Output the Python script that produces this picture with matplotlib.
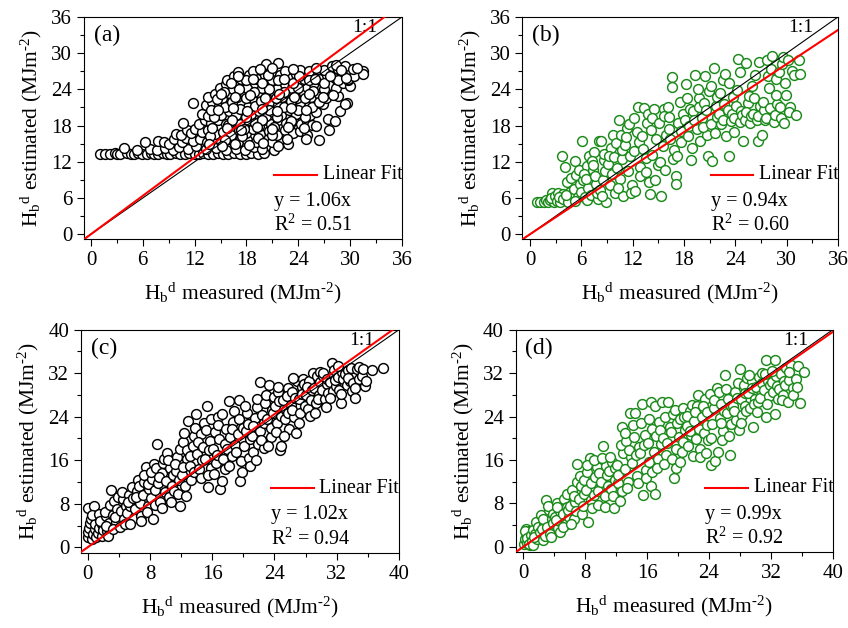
import matplotlib
matplotlib.use("Agg")
import matplotlib.pyplot as plt
from matplotlib.ticker import MultipleLocator

plt.rcParams['font.family'] = 'Liberation Serif'
plt.rcParams['mathtext.fontset'] = 'custom'
plt.rcParams['mathtext.rm'] = 'Liberation Serif'
plt.rcParams['mathtext.it'] = 'Liberation Serif:italic'

# (a) measured vs estimated
pts_a = [
    (1.0, 13.3), (1.6, 13.3), (2.2, 13.3), (2.8, 13.4), (3.0, 13.3), (3.4, 13.3), (4.2, 13.4), (4.6, 13.3),
    (5.0, 13.3), (5.5, 13.5), (5.9, 13.3), (6.5, 13.3), (6.9, 13.4), (7.3, 13.3), (7.8, 13.3), (8.3, 13.5),
    (8.8, 13.3), (9.2, 13.3), (9.8, 13.4), (10.3, 13.3), (10.9, 13.3), (11.4, 13.5), (12.0, 13.3), (12.5, 13.3),
    (13.0, 13.4), (13.6, 13.3), (14.1, 13.3), (14.7, 13.5), (15.3, 13.3), (15.9, 13.3), (16.6, 13.4), (17.2, 13.3),
    (17.9, 13.3), (18.5, 13.5), (19.3, 13.3), (20.0, 13.4),
    (3.8, 14.3), (5.3, 13.9), (6.8, 14.1), (7.6, 13.9), (8.6, 14.3), (9.5, 14.0), (10.2, 14.5), (11.2, 14.2),
    (12.2, 14.6), (13.3, 14.1), (14.5, 14.3), (15.6, 14.0), (16.8, 14.2), (17.8, 14.0), (18.9, 14.4), (19.8, 14.1),
    (21.2, 14.0),
    (6.2, 15.2), (7.8, 15.5), (8.4, 15.2), (9.0, 15.0), (9.6, 15.8), (10.5, 15.3), (11.0, 15.9), (11.8, 15.4),
    (12.6, 15.7), (13.4, 15.2), (14.2, 15.9), (15.0, 15.4), (16.0, 15.8), (17.0, 15.2), (18.1, 15.6), (19.1, 15.3),
    (20.2, 15.7), (21.0, 15.2), (22.0, 15.4), (22.8, 15.0),
    (9.8, 16.6), (10.4, 16.4), (11.1, 17.3), (11.6, 16.8), (12.0, 17.5), (12.8, 16.9), (13.6, 17.2), (14.4, 16.6),
    (15.3, 17.0), (16.2, 16.5), (17.1, 17.2), (17.9, 16.7), (18.8, 17.4), (19.6, 16.6), (20.6, 17.1), (21.5, 16.5),
    (22.5, 17.3), (23.4, 16.8), (24.2, 17.1), (25.0, 16.5),
    (10.6, 18.4), (12.5, 18.3), (13.2, 19.0), (13.9, 18.4), (14.7, 18.9), (15.6, 18.2), (16.4, 18.8), (17.3, 18.3),
    (18.2, 19.0), (19.0, 18.4), (19.9, 18.9), (20.8, 18.2), (21.6, 18.9), (22.6, 18.5), (23.4, 19.0), (24.3, 18.3),
    (25.0, 18.8), (25.6, 18.1),
    (12.8, 20.0), (13.5, 19.6), (14.3, 20.3), (15.1, 19.7), (16.0, 20.4), (16.8, 19.8), (17.7, 20.5), (18.5, 19.9),
    (19.4, 20.4), (20.3, 19.6), (21.1, 20.3), (22.0, 19.8), (22.9, 20.5), (23.7, 19.9), (24.6, 20.4), (25.4, 19.8),
    (26.0, 20.2),
    (11.8, 21.7), (13.3, 21.4), (14.0, 21.9), (14.8, 21.2), (15.7, 22.0), (16.5, 21.3), (17.4, 21.9), (18.2, 21.1),
    (19.1, 21.8), (20.0, 21.3), (20.8, 22.0), (21.7, 21.4), (22.6, 21.9), (23.5, 21.2), (24.3, 21.8), (25.2, 21.3),
    (26.0, 21.9), (26.8, 21.5),
    (13.6, 22.8), (14.4, 23.3), (15.2, 22.6), (16.0, 23.4), (16.9, 22.8), (17.8, 23.3), (18.6, 22.6), (19.5, 23.4),
    (20.4, 22.9), (21.2, 23.5), (22.1, 22.7), (23.0, 23.2), (23.8, 22.6), (24.7, 23.4), (25.5, 22.8), (26.4, 23.3),
    (27.2, 22.6), (27.8, 23.4), (28.6, 22.9),
    (14.9, 24.3), (15.6, 24.9), (16.4, 24.1), (17.2, 24.8), (18.1, 24.3), (19.0, 25.0), (19.8, 24.2), (20.7, 24.8),
    (21.5, 24.1), (22.4, 24.9), (23.3, 24.3), (24.1, 25.0), (25.0, 24.4), (25.8, 24.9), (26.7, 24.2), (27.5, 24.8),
    (28.4, 24.3), (29.2, 25.0), (30.0, 24.5), (29.7, 25.5),
    (15.8, 25.6), (16.6, 26.2), (17.4, 25.7), (18.3, 26.4), (19.2, 25.8), (20.1, 26.3), (21.0, 25.6), (21.9, 26.4),
    (22.8, 25.9), (23.7, 26.5), (24.6, 25.8), (25.5, 26.4), (26.4, 25.7), (27.3, 26.3), (28.2, 25.9), (29.0, 26.6),
    (29.8, 25.8), (30.4, 26.2),
    (17.0, 26.9), (18.8, 27.0), (20.3, 28.2), (21.7, 28.4), (22.5, 27.1), (24.2, 27.2), (25.2, 27.0), (27.0, 27.2),
    (27.9, 27.9), (28.6, 27.4), (29.4, 27.8), (30.3, 27.3), (31.5, 27.0), (31.5, 26.6), (28.4, 28.1),
    (13.8, 16.2), (15.5, 15.6), (17.5, 16.3), (19.3, 15.9), (21.0, 16.4), (22.7, 15.7),
    (14.0, 17.6), (15.9, 18.1), (17.7, 17.5), (19.5, 18.0), (21.2, 17.7), (23.0, 18.2), (24.6, 17.6),
    (14.2, 19.4), (16.3, 18.9), (18.0, 19.5), (19.8, 19.0), (21.5, 19.4), (23.1, 18.8), (24.8, 19.5),
    (13.9, 20.6), (15.5, 21.1), (17.2, 20.7), (19.0, 21.2), (20.6, 20.6), (22.3, 21.0), (24.0, 20.5), (25.6, 21.1),
    (14.6, 22.4), (16.3, 21.9), (18.0, 22.5), (19.7, 22.0), (21.4, 22.6), (23.1, 22.1), (24.8, 22.5), (26.4, 21.9),
    (15.4, 23.6), (17.1, 24.1), (18.9, 23.5), (20.6, 24.0), (22.3, 23.6), (24.0, 24.2), (25.7, 23.7), (27.0, 24.0),
    (16.2, 25.1), (18.0, 25.5), (19.8, 25.0), (21.6, 25.6), (23.4, 25.1), (25.2, 25.6), (27.0, 25.1), (28.6, 25.5),
    (13.7, 14.9), (15.2, 14.6), (16.7, 15.0), (18.3, 14.7), (19.9, 15.1), (21.6, 14.6),
    (15.7, 17.6), (17.4, 17.3), (19.2, 17.7), (21.0, 17.4), (22.8, 17.8),
    (14.7, 20.5), (16.4, 20.9), (18.1, 20.4), (19.8, 20.8), (21.5, 20.4), (23.2, 20.9), (24.9, 20.6),
    (15.0, 23.2), (16.7, 22.7), (18.4, 23.1), (20.1, 22.6), (21.8, 23.2), (23.5, 22.7), (25.2, 23.2), (26.9, 22.8),
    (28.0, 23.1),
    (17.0, 26.2), (18.7, 25.8), (20.5, 26.3), (22.3, 25.8), (24.1, 26.2), (25.9, 25.8), (27.7, 26.2), (29.5, 25.9),
    (19.6, 27.3), (21.0, 27.6), (23.4, 27.3), (26.0, 27.6), (28.9, 27.2), (30.8, 27.5),
    (24.9, 15.8), (26.4, 15.6), (26.1, 17.9), (27.5, 17.3), (27.4, 19.1), (28.2, 18.7), (28.8, 20.4), (29.6, 21.8),
    (29.4, 21.5),
]

# (b)
pts_b = [
    (0.8, 5.3), (1.2, 5.4), (1.6, 5.3), (1.9, 5.6), (2.1, 5.3),
    (2.3, 5.7), (2.6, 6.9), (2.8, 5.4), (2.5, 6.0), (2.9, 6.3),
    (3.1, 5.5), (3.3, 6.8), (3.5, 5.4), (3.7, 13.0), (3.8, 6.6), (3.4, 6.1), (3.9, 5.8),
    (4.1, 11.1), (4.3, 8.6), (4.5, 5.7), (4.7, 7.0), (4.9, 6.2), (4.4, 5.4), (4.8, 9.3), (4.2, 6.5),
    (5.1, 7.5), (5.2, 12.1), (5.4, 9.8), (5.6, 6.2), (5.8, 8.4), (5.3, 5.5), (5.7, 10.6), (5.9, 7.0),
    (6.1, 15.5), (6.2, 8.9), (6.4, 6.1), (6.6, 11.3), (6.8, 7.7), (6.3, 10.0), (6.7, 5.6), (6.9, 12.9), (6.5, 9.2),
    (7.1, 6.5), (7.3, 10.7), (7.5, 13.6), (7.7, 8.3), (7.9, 5.9), (7.2, 12.1), (7.6, 9.6), (7.8, 6.8), (7.4, 11.5),
    (8.1, 15.5), (8.3, 15.4), (8.5, 9.0), (8.7, 12.3), (8.9, 5.4), (8.2, 7.4), (8.6, 13.3), (8.8, 10.4), (8.4, 6.4),
    (9.1, 11.6), (9.3, 8.1), (9.5, 14.3), (9.7, 16.4), (9.9, 6.9), (9.2, 13.0), (9.6, 10.0), (9.8, 12.8),
    (10.1, 15.1), (10.4, 18.9), (10.5, 9.1), (10.7, 12.4), (10.9, 6.3), (10.2, 11.0), (10.6, 16.5), (10.8, 13.9),
    (10.3, 7.6),
    (11.1, 14.7), (11.3, 17.6), (11.5, 10.5), (11.7, 12.9), (11.9, 8.2), (11.2, 16.1), (11.6, 18.2), (11.8, 6.9),
    (12.1, 13.8), (12.3, 7.2), (12.5, 17.0), (12.6, 21.1), (12.8, 11.2), (12.2, 19.3), (12.7, 15.3), (12.9, 9.6),
    (13.1, 16.2), (13.3, 20.9), (13.5, 12.6), (13.7, 18.4), (13.9, 8.6), (13.2, 14.1), (13.6, 10.3), (13.8, 20.0),
    (14.1, 17.3), (14.0, 6.6), (14.3, 13.2), (14.5, 20.8), (14.7, 15.8), (14.9, 11.5), (14.2, 19.2), (14.6, 9.0),
    (15.1, 18.5), (15.3, 6.4), (15.5, 14.6), (15.7, 20.7), (15.9, 16.4), (15.2, 12.0), (15.6, 19.6), (15.8, 10.7),
    (16.1, 21.0), (16.3, 17.4), (16.6, 26.1), (16.6, 24.4), (16.8, 14.0), (16.2, 19.5), (16.7, 12.4), (16.4, 15.8),
    (17.1, 9.7), (17.1, 8.3), (17.3, 18.4), (17.5, 21.9), (17.7, 15.3), (17.9, 20.0), (17.2, 13.0), (17.6, 17.1),
    (18.1, 19.0), (18.3, 22.6), (18.5, 16.2), (18.7, 20.8), (18.9, 14.3), (18.2, 24.9), (18.6, 18.0), (18.8, 12.3),
    (19.1, 20.4), (19.3, 26.4), (19.5, 17.4), (19.7, 22.6), (19.9, 15.5), (19.2, 18.9), (19.6, 24.0), (19.8, 21.0),
    (20.1, 19.2), (20.5, 26.2), (20.3, 21.8), (20.7, 16.4), (20.8, 13.0), (20.9, 23.8), (20.2, 17.8), (20.6, 20.5),
    (21.1, 18.3), (21.3, 12.2), (21.5, 27.5), (21.7, 21.2), (21.9, 19.5), (21.2, 24.6), (21.6, 16.8), (21.8, 22.7),
    (22.1, 19.9), (22.3, 18.2), (22.5, 25.6), (22.7, 21.5), (22.9, 16.2), (22.2, 23.4), (22.6, 19.0), (22.8, 26.5),
    (23.1, 20.6), (23.3, 13.0), (23.5, 18.7), (23.7, 22.8), (23.9, 16.9), (23.2, 25.1), (23.6, 20.0), (23.8, 19.3),
    (24.1, 21.2), (24.3, 29.0), (24.5, 18.6), (24.7, 20.4), (24.9, 15.4), (24.2, 23.9), (24.6, 26.9), (24.8, 19.8),
    (25.1, 19.0), (25.3, 28.3), (25.5, 21.7), (25.7, 18.5), (25.9, 24.6), (25.2, 20.3), (25.6, 22.9), (25.8, 19.6),
    (26.1, 20.0), (26.3, 26.3), (26.5, 18.9), (26.7, 15.5), (26.9, 21.3), (26.2, 22.6), (26.6, 19.6), (26.8, 28.5),
    (27.1, 16.4), (27.3, 20.5), (27.5, 18.9), (27.7, 28.8), (27.9, 24.3), (27.2, 21.9), (27.6, 19.3), (27.8, 26.2),
    (28.1, 20.9), (28.3, 29.5), (28.5, 18.6), (28.7, 25.8), (28.9, 21.6), (28.2, 27.4), (28.6, 19.8), (28.8, 23.0),
    (29.1, 26.8), (29.3, 19.3), (29.5, 28.2), (29.7, 18.5), (29.9, 23.0), (29.2, 21.1), (29.6, 29.3), (29.8, 25.0),
    (30.2, 28.9), (30.4, 21.0), (30.6, 27.1), (30.8, 26.3), (30.3, 20.3),
    (31.1, 19.7), (31.4, 28.9), (31.5, 26.6),
]

# (c)
pts_c = [
    (0.0, 1.9), (0.1, 2.8), (0.2, 3.6), (0.3, 4.4), (0.1, 7.2), (0.8, 7.5), (0.5, 1.5), (0.7, 2.4), (0.9, 3.3),
    (0.4, 5.2), (1.0, 4.3), (1.1, 1.8), (0.6, 6.0),
    (1.3, 2.6), (1.5, 3.5), (1.7, 5.5), (1.9, 4.2), (1.4, 6.2), (1.8, 2.0), (2.0, 3.1), (1.6, 4.8),
    (2.3, 5.8), (2.5, 3.0), (2.6, 2.0), (2.8, 4.5), (2.2, 6.4), (3.0, 10.6), (2.9, 7.8), (2.4, 4.0),
    (3.2, 6.0), (3.4, 8.5), (3.6, 4.6), (3.8, 7.0), (3.3, 3.4), (3.9, 9.3), (3.5, 5.6),
    (4.1, 3.8), (4.3, 6.6), (4.5, 8.9), (4.7, 5.2), (4.9, 7.6), (4.4, 10.1), (4.8, 4.3),
    (5.1, 6.3), (5.3, 9.6), (5.5, 7.5), (5.7, 11.0), (5.9, 5.3), (5.2, 8.4), (5.8, 9.0), (5.4, 4.2),
    (6.1, 7.0), (6.3, 10.4), (6.5, 12.3), (6.7, 8.2), (6.9, 5.8), (6.2, 9.2), (6.6, 11.3), (6.8, 4.8),
    (7.1, 9.6), (7.3, 12.0), (7.5, 14.8), (7.7, 7.6), (7.9, 10.8), (7.2, 13.3), (7.6, 6.4), (7.8, 11.7),
    (8.1, 9.0), (8.3, 12.6), (8.4, 5.2), (8.5, 15.3), (8.7, 10.6), (8.9, 18.9), (8.2, 13.8), (8.6, 7.8), (8.8, 14.6),
    (9.1, 11.8), (9.3, 8.3), (9.5, 13.6), (9.7, 15.5), (9.9, 10.2), (9.2, 12.9), (9.6, 7.2), (9.8, 16.3),
    (10.1, 12.2), (10.2, 17.4), (10.4, 9.2), (10.6, 14.5), (10.8, 11.3), (10.3, 16.0), (10.7, 8.3), (10.9, 13.3),
    (11.1, 10.4), (11.3, 14.0), (11.5, 16.6), (11.7, 12.4), (11.9, 7.5), (11.2, 15.3), (11.6, 9.8), (11.8, 18.0),
    (12.1, 13.3), (12.3, 19.4), (12.5, 11.2), (12.7, 16.3), (12.9, 23.3), (12.2, 14.7), (12.6, 9.5), (12.8, 17.8),
    (12.4, 21.0),
    (13.1, 15.0), (13.3, 12.3), (13.5, 18.6), (13.7, 20.4), (13.9, 24.5), (13.2, 16.8), (13.6, 13.9), (13.8, 22.0),
    (14.1, 17.2), (14.3, 14.3), (14.5, 20.9), (14.7, 16.0), (14.9, 22.8), (14.2, 19.3), (14.6, 12.7), (14.8, 18.4),
    (15.1, 16.3), (15.3, 25.9), (15.5, 11.0), (15.7, 19.6), (15.9, 14.6), (15.2, 21.5), (15.6, 17.8), (15.8, 23.6),
    (15.4, 13.2),
    (16.1, 18.1), (16.3, 21.2), (16.5, 15.5), (16.7, 23.9), (16.9, 19.9), (16.2, 13.5), (16.6, 17.0), (16.8, 22.4),
    (17.0, 10.8), (17.2, 12.2), (17.4, 16.3), (17.6, 19.0), (17.8, 21.8), (17.3, 24.5), (17.7, 14.4), (17.9, 18.0),
    (18.1, 26.8), (18.3, 20.3), (18.5, 16.7), (18.7, 23.1), (18.9, 18.8), (18.2, 14.9), (18.6, 21.7), (18.8, 25.0),
    (19.1, 17.5), (19.4, 27.1), (19.6, 12.2), (19.8, 13.8), (19.3, 20.8), (19.5, 23.5), (19.7, 15.8), (19.9, 22.0),
    (20.1, 18.6), (20.3, 21.4), (20.5, 24.6), (20.7, 16.4), (20.9, 19.9), (20.2, 26.0), (20.6, 22.7), (20.8, 14.9),
    (21.1, 20.5), (21.3, 17.6), (21.5, 23.8), (21.7, 25.7), (21.9, 19.0), (21.2, 22.3), (21.6, 16.1), (21.8, 27.3),
    (22.1, 21.3), (22.2, 30.3), (22.4, 24.4), (22.6, 18.2), (22.8, 26.5), (22.3, 19.8), (22.7, 22.9), (22.9, 28.0),
    (23.1, 23.6), (23.3, 29.9), (23.5, 20.3), (23.7, 25.3), (23.9, 27.6), (23.2, 18.6), (23.6, 22.0), (23.8, 24.7),
    (24.1, 25.9), (24.3, 22.8), (24.5, 28.5), (24.7, 17.9), (24.8, 18.7), (24.9, 24.2), (24.2, 21.2), (24.6, 26.8),
    (24.4, 29.5),
    (25.1, 27.0), (25.3, 23.5), (25.5, 25.2), (25.7, 29.2), (25.9, 21.8), (25.2, 20.5), (25.6, 27.9), (25.8, 24.6),
    (26.1, 26.2), (26.3, 28.6), (26.5, 23.9), (26.8, 21.0), (26.9, 30.5), (26.2, 25.3), (26.6, 27.5), (26.4, 31.2),
    (27.1, 27.3), (27.3, 24.7), (27.5, 29.4), (27.7, 31.0), (27.9, 26.0), (27.2, 22.8), (27.6, 28.2), (27.8, 30.1),
    (28.1, 28.0), (28.3, 25.4), (28.5, 30.6), (28.7, 27.1), (28.9, 32.0), (28.2, 29.5), (28.6, 24.1), (28.8, 29.0),
    (29.1, 29.2), (29.3, 26.5), (29.5, 31.4), (29.7, 28.0), (29.9, 30.3), (29.2, 24.6), (29.6, 27.2), (29.8, 32.3),
    (30.1, 29.0), (30.3, 31.5), (30.5, 27.3), (30.7, 30.0), (30.9, 28.4), (30.2, 32.0), (30.6, 25.8), (30.8, 31.0),
    (31.1, 30.4), (31.4, 33.8), (31.5, 28.7), (31.7, 31.6), (31.9, 29.6), (31.2, 27.5), (31.6, 32.5), (31.8, 30.8),
    (32.1, 31.3), (32.3, 29.0), (32.5, 26.6), (32.7, 32.2), (32.9, 30.4), (32.2, 33.3), (32.6, 28.2), (32.8, 31.0),
    (33.1, 31.8), (33.3, 29.8), (33.5, 32.6), (33.7, 30.6), (33.9, 28.7), (33.4, 31.2), (33.8, 33.0),
    (34.1, 30.2), (34.4, 27.5), (34.6, 32.8), (34.8, 31.0), (34.3, 29.3), (34.9, 33.2),
    (35.2, 31.5), (35.6, 29.7), (35.8, 30.6), (35.4, 32.7),
    (36.5, 32.6), (37.9, 32.9),
]

# (d)
pts_d = [
    (0.1, 0.5), (0.2, 1.5), (0.3, 2.5), (0.4, 3.2), (0.5, 0.8), (0.6, 2.0), (0.7, 1.2), (0.8, 2.9), (0.9, 0.3),
    (0.2, 3.0), (0.5, 1.7), (1.0, 2.2), (0.8, 0.6),
    (1.1, 1.0), (1.2, 3.1), (1.3, 0.4), (1.5, 2.4), (1.6, 4.6), (1.8, 1.5), (1.9, 3.6), (1.4, 1.8),
    (2.1, 2.8), (2.3, 5.9), (2.5, 1.2), (2.7, 4.0), (2.9, 8.6), (2.4, 3.3), (2.8, 2.0), (2.6, 5.1),
    (3.1, 3.7), (3.3, 6.8), (3.5, 2.4), (3.7, 5.2), (3.9, 4.4), (3.2, 7.5), (3.6, 1.8), (3.8, 6.1),
    (4.1, 5.5), (4.3, 8.1), (4.5, 3.4), (4.7, 6.6), (4.9, 4.6), (4.4, 7.3), (4.8, 2.7), (4.2, 5.0),
    (5.1, 6.1), (5.3, 8.9), (5.5, 4.2), (5.7, 7.3), (5.9, 5.5), (5.2, 3.6), (5.6, 9.8), (5.8, 6.7),
    (6.1, 7.6), (6.3, 10.4), (6.5, 5.1), (6.7, 8.3), (6.9, 12.0), (6.2, 4.3), (6.6, 9.3), (6.8, 6.6),
    (7.0, 15.3), (7.2, 8.8), (7.4, 11.2), (7.6, 6.1), (7.8, 9.8), (7.3, 13.0), (7.7, 7.5), (7.9, 12.3),
    (8.1, 10.5), (8.4, 4.6), (8.6, 16.3), (8.8, 8.6), (8.3, 13.8), (8.7, 11.7), (8.9, 7.1), (8.2, 15.0),
    (9.1, 9.6), (9.3, 12.8), (9.5, 14.7), (9.7, 7.8), (9.9, 11.0), (9.2, 16.0), (9.6, 10.2), (9.8, 13.6),
    (10.1, 12.0), (10.3, 18.5), (10.5, 9.3), (10.7, 14.9), (10.9, 11.2), (10.2, 16.4), (10.6, 7.4), (10.8, 13.3),
    (11.1, 13.9), (11.3, 10.6), (11.5, 15.7), (11.7, 7.2), (11.9, 12.4), (11.2, 16.5), (11.6, 9.4), (11.8, 14.5),
    (12.1, 15.0), (12.3, 11.7), (12.5, 8.5), (12.7, 22.1), (12.9, 17.2), (12.2, 13.2), (12.6, 18.8), (12.8, 10.2),
    (13.1, 14.3), (13.3, 19.5), (13.5, 12.0), (13.8, 24.6), (13.9, 16.6), (13.2, 21.0), (13.6, 17.9), (13.4, 10.8),
    (14.1, 15.5), (14.5, 24.6), (14.3, 20.3), (14.7, 13.1), (14.9, 18.4), (14.2, 22.4), (14.6, 16.9), (14.8, 11.8),
    (15.1, 17.3), (15.3, 26.4), (15.5, 9.6), (15.7, 20.6), (15.9, 14.1), (15.2, 22.9), (15.6, 18.8), (15.8, 12.6),
    (16.1, 19.2), (16.3, 15.6), (16.5, 11.2), (16.5, 26.7), (16.7, 21.8), (16.9, 17.5), (16.2, 23.6), (16.6, 13.8),
    (17.0, 9.8), (17.0, 26.0), (17.2, 20.4), (17.4, 16.2), (17.6, 23.0), (17.8, 18.9), (17.3, 14.6), (17.7, 21.5),
    (17.9, 26.7), (18.1, 20.0), (18.3, 23.9), (18.5, 17.0), (18.7, 26.6), (18.9, 22.0), (18.2, 15.3), (18.6, 19.2),
    (19.1, 21.1), (19.3, 24.4), (19.5, 12.7), (19.7, 18.0), (19.9, 22.8), (19.2, 16.1), (19.6, 25.3), (19.8, 14.5),
    (20.1, 20.2), (20.3, 23.5), (20.5, 17.4), (20.7, 25.5), (20.9, 21.6), (20.2, 15.6), (20.6, 19.3), (20.8, 24.0),
    (21.1, 22.3), (21.3, 18.6), (21.5, 25.0), (21.7, 20.6), (21.9, 16.7), (21.2, 24.1), (21.6, 21.4), (21.8, 26.2),
    (22.1, 23.2), (22.3, 19.9), (22.5, 26.0), (22.7, 21.7), (22.9, 18.1), (22.2, 24.8), (22.6, 28.0), (22.8, 16.5),
    (23.1, 24.0), (23.3, 21.0), (23.5, 27.2), (23.7, 22.5), (23.9, 19.6), (23.2, 25.9), (23.6, 17.3), (23.8, 24.9),
    (24.1, 28.1), (24.2, 15.0), (24.4, 22.6), (24.6, 25.6), (24.8, 15.8), (24.3, 20.0), (24.7, 27.0), (25.0, 29.3),
    (25.2, 17.5), (25.4, 23.8), (25.6, 26.4), (25.8, 21.4), (25.3, 28.6), (25.7, 19.7), (25.9, 25.0), (25.5, 22.8),
    (26.1, 31.7), (26.3, 24.7), (26.5, 27.3), (26.7, 17.0), (26.9, 22.6), (26.2, 29.0), (26.6, 20.4), (26.8, 25.9),
    (27.1, 26.0), (27.3, 28.5), (27.5, 23.4), (27.7, 30.2), (27.9, 21.6), (27.2, 25.0), (27.6, 27.4), (28.0, 32.8),
    (28.1, 27.2), (28.3, 24.3), (28.5, 29.8), (28.7, 26.0), (28.9, 31.1), (28.2, 22.8), (28.6, 28.4), (28.8, 25.1),
    (29.1, 28.3), (29.3, 25.6), (29.5, 30.6), (29.7, 22.1), (29.9, 27.3), (29.2, 31.6), (29.6, 29.2), (29.8, 26.4),
    (30.1, 29.4), (30.3, 26.7), (30.5, 31.2), (30.7, 28.0), (30.9, 30.1), (30.2, 24.9), (30.6, 27.5), (30.8, 32.0),
    (31.1, 28.9), (31.4, 34.5), (31.4, 23.9), (31.6, 30.6), (31.8, 27.7), (31.2, 31.8), (31.5, 26.3), (31.9, 29.8),
    (32.1, 30.3), (32.5, 34.5), (32.5, 24.5), (32.3, 28.5), (32.7, 31.5), (32.9, 27.3), (32.2, 32.4), (32.8, 29.6),
    (33.1, 29.0), (33.3, 31.9), (33.5, 28.0), (33.7, 30.6), (33.9, 32.9), (33.4, 27.0), (33.8, 29.8),
    (34.2, 26.7), (34.4, 30.8), (34.6, 33.5), (34.8, 29.2), (34.3, 32.2), (34.9, 28.0),
    (35.2, 31.0), (35.5, 33.4), (35.7, 26.5), (35.4, 29.4),
    (36.3, 32.2),
]

panel_labels = ['(a)', '(b)', '(c)', '(d)']
slopes = [1.06, 0.94, 1.02, 0.99]
r2_values = ['0.51', '0.60', '0.94', '0.92']
axis_max = [36, 36, 40, 40]
tick_step = [6, 6, 8, 8]
edge_colors = ['black', '#1a8a1a', 'black', '#1a8a1a']

fig = plt.figure(figsize=(8.48, 6.28), dpi=100)
positions = [
    [0.0991, 0.6194, 0.3750, 0.3536],
    [0.6160, 0.6194, 0.3722, 0.3536],
    [0.0955, 0.1199, 0.3750, 0.3551],
    [0.6081, 0.1210, 0.3740, 0.3540],
]
lows = [(-0.8, -0.8), (-0.9, -0.8), (-0.86, -1.0), (-0.98, -0.95)]

xlab = r'H$_\mathregular{b}$$^\mathregular{d}$ measured (MJm$^{\text{-2}}$)'
ylab = r'H$_\mathregular{b}$$^\mathregular{d}$ estimated (MJm$^{\text{-2}}$)'

for i, pts in enumerate([pts_a, pts_b, pts_c, pts_d]):
    ax = fig.add_axes(positions[i])
    xs = [p[0] for p in pts]
    ys = [p[1] for p in pts]
    top = axis_max[i]
    ax.scatter(xs, ys, s=50, facecolors='white', edgecolors=edge_colors[i], linewidths=1.05, zorder=2)
    ax.plot([-2, top + 2], [-2, top + 2], color='black', lw=0.8, zorder=3)
    ax.plot([-2, top + 2], [-2 * slopes[i], (top + 2) * slopes[i]], color='red', lw=1.5, zorder=4)
    ax.set_xlim(lows[i][0], top)
    ax.set_ylim(lows[i][1], top)
    ax.xaxis.set_major_locator(MultipleLocator(tick_step[i]))
    ax.xaxis.set_minor_locator(MultipleLocator(tick_step[i] / 2))
    ax.yaxis.set_major_locator(MultipleLocator(tick_step[i]))
    ax.yaxis.set_minor_locator(MultipleLocator(tick_step[i] / 2))
    ax.tick_params(which='both', direction='out', top=False, right=False, labelsize=15, width=0.8)
    ax.tick_params(which='major', length=5)
    ax.tick_params(which='minor', length=3)
    for sp in ax.spines.values():
        sp.set_linewidth(0.8)
    ax.set_xlabel(xlab, fontsize=15.5, labelpad=8)
    ax.set_ylabel(ylab, fontsize=15.5, labelpad=5)

    ax.text(0.03, 0.965, panel_labels[i], transform=ax.transAxes, fontsize=17, ha='left', va='top')
    ax.text(top * 0.88, top * 0.95, '1:1', fontsize=14, ha='center', va='center')

    ax.plot([0.598, 0.732], [0.29, 0.29], transform=ax.transAxes, color='red', lw=1.5)
    ax.text(0.75, 0.29, 'Linear Fit', transform=ax.transAxes, fontsize=14.5, ha='left', va='center')
    ax.text(0.598, 0.17, 'y = %.2fx' % slopes[i], transform=ax.transAxes, fontsize=14.5, ha='left', va='center')
    ax.text(0.598, 0.06, r'R$^\mathregular{2}$ = ' + r2_values[i], transform=ax.transAxes,
            fontsize=14.5, ha='left', va='center')

fig.savefig('out.png', dpi=100)
